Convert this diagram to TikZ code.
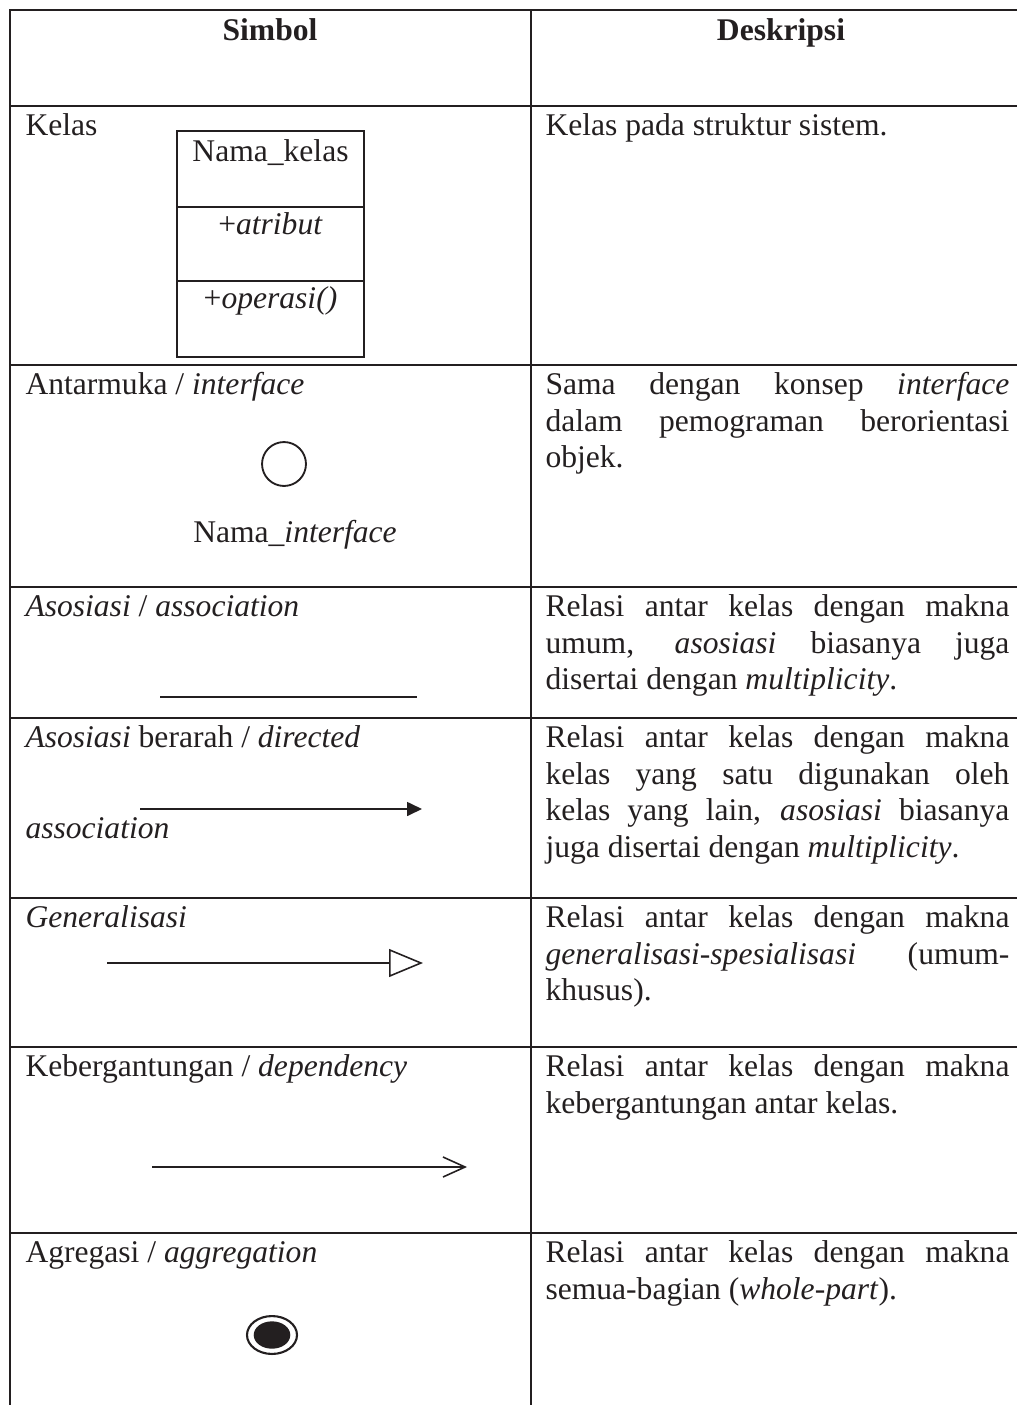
\documentclass[tikz,border=0pt]{standalone}
\usepackage{fontspec}
\setmainfont{Liberation Serif}
\usetikzlibrary{arrows.meta,shapes.geometric}
\definecolor{Ink}{HTML}{231F20}
\hbadness=10000
\tolerance=10000
\tikzset{rule/.style={draw=Ink,line width=1pt},
  txt/.style={inner sep=0pt,text=Ink,font=\fontsize{12}{13.95}\selectfont},
  head/.style={txt,anchor=base,font=\fontsize{12}{13.95}\selectfont\bfseries},
  lbl/.style={txt,anchor=base west},
  desc/.style={txt,anchor=base west,text width=176.3pt,align=justify},
  cls/.style={txt,anchor=base},
  boxline/.style={draw=Ink,line width=0.9pt},
  sym/.style={draw=Ink,line width=0.6pt},
  directed/.style={sym,-{Triangle[length=5.7pt,width=5.3pt]}},
  general/.style={sym,-{Triangle[open,length=12.9pt,width=10.6pt]}},
  depend/.style={sym,-{Straight Barb[length=8.4pt,width=7.6pt]}},
  iface/.style={circle,draw=Ink,line width=0.7pt,minimum size=16.7pt,inner sep=0pt},
  aggout/.style={ellipse,draw=Ink,line width=0.8pt,minimum width=19pt,minimum height=14.4pt,inner sep=0pt},
  aggin/.style={ellipse,fill=Ink,minimum width=13.9pt,minimum height=10.4pt,inner sep=0pt}}
\begin{document}
\begin{tikzpicture}[x=0.38pt,y=-0.38pt]
  \useasboundingbox (0,0) rectangle (1017,1405);
  \draw[rule] (10,1405) -- (10,10) -- (1017,10);
  \draw[rule] (531,10) -- (531,1405);
  \foreach \y in {106,365,587,718,898,1047,1233}
    \draw[rule] (10,\y) -- (1017,\y);
  \node[head] (simbol) at (270,41) {Simbol};
  \node[head] (deskripsi) at (781,41) {Deskripsi};
  % kelas
  \node[lbl] (kelas) at (25,135.5) {Kelas};
  \draw[boxline] (177,131) rectangle (364,357);
  \draw[boxline] (177,207) -- (364,207) (177,281) -- (364,281);
  \node[cls] (cname) at (270.5,162) {Nama\_kelas};
  \node[cls] (cattr) at (270.5,235) {+\textit{atribut}};
  \node[cls] (cop) at (270.5,308) {+\textit{operasi()}};
  \node[desc] (dkelas) at (545,135.5) {Kelas pada struktur sistem.};
  % antarmuka
  \node[lbl] (antarmuka) at (25,394.5) {Antarmuka / \textit{interface}};
  \node[iface] (bulat) at (284,464) {};
  \node[cls] (iname) at (295,542) {Nama\_\textit{interface}};
  \node[desc] (dantar) at (545,394.5) {Sama dengan konsep \textit{interface}\linebreak
    dalam pemograman berorientasi\linebreak objek.};
  % asosiasi
  \node[lbl] (asosiasi) at (25,616.5) {\textit{Asosiasi} / \textit{association}};
  \coordinate (as1) at (160,697); \coordinate (as2) at (417,697);
  \draw[sym,line width=0.5pt] (as1) -- (as2);
  \node[desc] (dasos) at (545,616.5) {Relasi antar kelas dengan makna\linebreak
    umum, \textit{asosiasi} biasanya juga\linebreak disertai dengan \textit{multiplicity}.};
  % asosiasi berarah
  \node[lbl] (berarah) at (25,747.5) {\textit{Asosiasi} berarah / \textit{directed}};
  \node[lbl] (berarah2) at (25,838) {\textit{association}};
  \coordinate (da1) at (140,809); \coordinate (da2) at (422,809);
  \draw[directed,line width=0.7pt] (da1) -- (da2);
  \node[desc] (dberarah) at (545,747.5) {Relasi antar kelas dengan makna\linebreak
    kelas yang satu digunakan oleh\linebreak kelas yang lain, \textit{asosiasi} biasanya\linebreak
    juga disertai dengan \textit{multiplicity}.};
  % generalisasi
  \node[lbl] (generalisasi) at (25,927.5) {\textit{Generalisasi}};
  \coordinate (ge1) at (107,963); \coordinate (ge2) at (423,963);
  \draw[general] (ge1) -- (ge2);
  \node[desc] (dgeneral) at (545,927.5) {Relasi antar kelas dengan makna\linebreak
    \textit{generalisasi-spesialisasi} (umum-\linebreak khusus).};
  % kebergantungan
  \node[lbl] (depend) at (25,1076.5) {Kebergantungan / \textit{dependency}};
  \coordinate (de1) at (152,1167); \coordinate (de2) at (467,1167);
  \draw[depend] (de1) -- (de2);
  \node[desc] (ddepend) at (545,1076.5) {Relasi antar kelas dengan makna\linebreak
    kebergantungan antar kelas.};
  % agregasi
  \node[lbl] (agregasi) at (25,1262.5) {Agregasi / \textit{aggregation}};
  \node[aggout] (agg) at (272,1335) {};
  \node[aggin] (aggdot) at (agg.center) {};
  \node[desc] (dagreg) at (545,1262.5) {Relasi antar kelas dengan makna\linebreak
    semua-bagian (\textit{whole-part}).};
\end{tikzpicture}
\end{document}
